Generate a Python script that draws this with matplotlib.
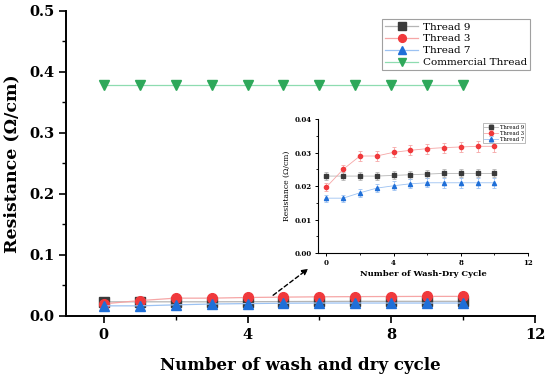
import numpy as np
import matplotlib
matplotlib.use("Agg")
import matplotlib.pyplot as plt

cycles = list(range(11))
thread9 = [0.0230, 0.0230, 0.0230, 0.0230, 0.0232, 0.0234, 0.0236, 0.0238, 0.0238, 0.0238, 0.0238]
thread3 = [0.0197, 0.0250, 0.0290, 0.0290, 0.0301, 0.0307, 0.0312, 0.0315, 0.0317, 0.0319, 0.0319]
thread7 = [0.0164, 0.0164, 0.0180, 0.0194, 0.0201, 0.0207, 0.0210, 0.0210, 0.0210, 0.0210, 0.0210]
commercial = [0.378] * 11
err9 = [0.0012] * 11
err3 = [0.0013, 0.0013, 0.0015, 0.0015, 0.0015, 0.0015, 0.0015, 0.0015, 0.0016, 0.0016, 0.0016]
err7 = [0.0010, 0.0010, 0.0012, 0.0012, 0.0013, 0.0014, 0.0014, 0.0015, 0.0015, 0.0015, 0.0015]

series = [
    ("Thread 9", thread9, err9, "s", "#3a3a3a", "#b5b5b5"),
    ("Thread 3", thread3, err3, "o", "#f0393c", "#f6a6a6"),
    ("Thread 7", thread7, err7, "^", "#1f6fd8", "#9cc2f2"),
]

plt.rcParams['font.family'] = ['DejaVu Serif']

fig = plt.figure(figsize=(5.5, 3.76), dpi=100)
ax = fig.add_axes([0.12, 0.16, 0.853, 0.811])

for name, vals, err, mk, c, lc in series:
    ax.plot(cycles, vals, color=lc, lw=0.9, marker=mk, ms=7, mfc=c, mec=c, label=name)
ax.plot(cycles, commercial, color="#8edcb0", lw=0.9, marker="v", ms=7,
        mfc="#2ea85a", mec="#2ea85a", label="Commercial Thread")

ax.set_xlim(-1.05, 12)
ax.set_ylim(0, 0.5)
ax.set_xticks([0, 4, 8, 12])
ax.set_xticks([2, 6, 10], minor=True)
ax.set_yticks([0.0, 0.1, 0.2, 0.3, 0.4, 0.5])
ax.set_yticks(np.arange(0.05, 0.5, 0.1), minor=True)
ax.spines['top'].set_visible(False)
ax.spines['right'].set_visible(False)
for s in ['left', 'bottom']:
    ax.spines[s].set_linewidth(1.4)
ax.tick_params(which='major', length=5, width=1.2, labelsize=10.5)
ax.tick_params(which='minor', length=3, width=1.0)
for lab in ax.get_xticklabels() + ax.get_yticklabels():
    lab.set_fontweight('bold')
ax.set_xlabel("Number of wash and dry cycle", fontsize=12, fontweight='bold', labelpad=11)
ax.set_ylabel("Resistance (Ω/cm)", fontsize=12.5, fontweight='bold', labelpad=6)
leg = ax.legend(loc='upper right', bbox_to_anchor=(1.0, 0.99), fontsize=7.5, frameon=True,
                fancybox=False, edgecolor='#888888', handlelength=3.2, borderpad=0.3,
                labelspacing=0.25, handletextpad=0.4, markerscale=0.8)
leg.get_frame().set_linewidth(0.8)

# zoom arrow
ax.annotate("", xy=(5.75, 0.080), xytext=(4.65, 0.031),
            arrowprops=dict(arrowstyle="-|>", linestyle=(0, (3, 2)), color="black",
                            lw=1.0, mutation_scale=9))

# inset
ins = fig.add_axes([0.578, 0.327, 0.382, 0.356])
for name, vals, err, mk, c, lc in series:
    ins.errorbar(cycles, vals, yerr=err, color=lc, lw=0.6, marker=mk, ms=3, mfc=c, mec=c,
                 ecolor=lc, elinewidth=0.6, capsize=1.5, capthick=0.6, label=name)
ins.set_xlim(-0.5, 12)
ins.set_ylim(0, 0.04)
ins.set_xticks([0, 4, 8, 12])
ins.set_xticks([2, 6, 10], minor=True)
ins.set_yticks([0.0, 0.01, 0.02, 0.03, 0.04])
ins.set_yticks([0.005, 0.015, 0.025, 0.035], minor=True)
ins.yaxis.set_major_formatter(matplotlib.ticker.FormatStrFormatter('%.2f'))
ins.spines['top'].set_visible(False)
ins.spines['right'].set_visible(False)
for s in ['left', 'bottom']:
    ins.spines[s].set_linewidth(0.8)
ins.tick_params(which='major', length=2.5, width=0.7, labelsize=5, pad=2)
ins.tick_params(which='minor', length=1.5, width=0.6)
for lab in ins.get_xticklabels() + ins.get_yticklabels():
    lab.set_fontweight('bold')
ins.set_xlabel("Number of Wash-Dry Cycle", fontsize=6, fontweight='bold', labelpad=2)
ins.set_ylabel("Resistance (Ω/cm)", fontsize=5.5, labelpad=3)
il = ins.legend(loc='upper right', bbox_to_anchor=(1.0, 0.99), fontsize=3.8, frameon=True,
                fancybox=False, edgecolor='#888888', handlelength=2.5, borderpad=0.3,
                labelspacing=0.2, handletextpad=0.4)
il.get_frame().set_linewidth(0.5)

fig.savefig("out.png", dpi=100)
